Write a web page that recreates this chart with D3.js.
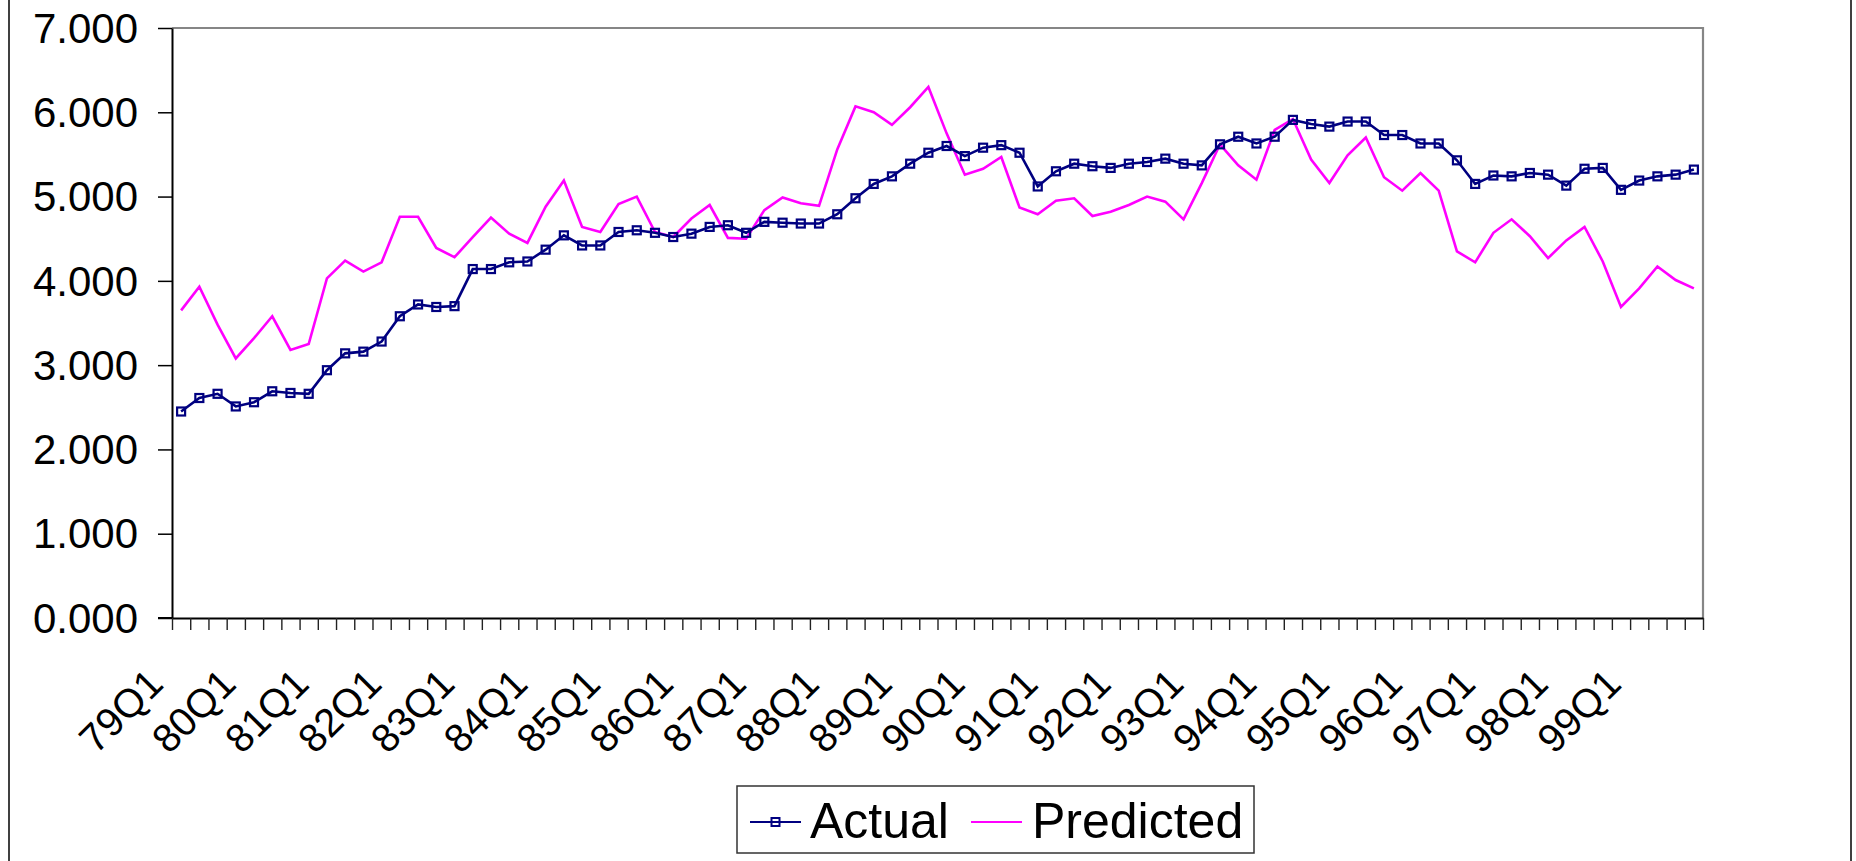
<!DOCTYPE html>
<html>
<head>
<meta charset="utf-8">
<script src="https://cdn.jsdelivr.net/npm/d3@7"></script>
<style>
  html, body { margin: 0; padding: 0; background: #fff; }
  svg { display: block; font-family: "Liberation Sans", Arial, sans-serif; }
</style>
</head>
<body>
<svg id="chart" width="1856" height="861"></svg>
<script>
// Quarterly series, 1979Q1 – 1999Q4
const years = ["79","80","81","82","83","84","85","86","87","88","89","90",
               "91","92","93","94","95","96","97","98","99"];
const quarters = ["Q1","Q2","Q3","Q4"];
const categories = years.flatMap(y => quarters.map(q => y + q));

const actual = [
  2.45,2.61,2.66,2.51,2.56,2.69,2.67,2.66,2.94,3.14,
  3.16,3.28,3.58,3.72,3.69,3.70,4.14,4.14,4.22,4.23,
  4.37,4.54,4.42,4.42,4.58,4.60,4.57,4.52,4.56,4.64,
  4.66,4.57,4.70,4.69,4.68,4.68,4.79,4.98,5.15,5.24,
  5.39,5.52,5.60,5.48,5.58,5.61,5.52,5.12,5.30,5.39,
  5.36,5.34,5.39,5.41,5.45,5.39,5.37,5.62,5.71,5.63,
  5.71,5.91,5.86,5.83,5.89,5.89,5.73,5.73,5.63,5.63,
  5.43,5.15,5.25,5.24,5.28,5.26,5.13,5.33,5.34,5.08,
  5.19,5.24,5.26,5.32
];

const predicted = [
  3.65,3.93,3.48,3.08,3.32,3.58,3.18,3.25,4.03,4.24,
  4.11,4.22,4.76,4.76,4.39,4.28,4.52,4.75,4.56,4.45,
  4.88,5.19,4.64,4.58,4.91,5.00,4.58,4.52,4.74,4.90,
  4.51,4.50,4.84,4.99,4.92,4.89,5.56,6.07,6.00,5.85,
  6.06,6.30,5.75,5.26,5.33,5.47,4.87,4.79,4.95,4.98,
  4.77,4.82,4.90,5.00,4.94,4.73,5.16,5.62,5.37,5.20,
  5.79,5.92,5.44,5.16,5.49,5.70,5.23,5.07,5.28,5.07,
  4.35,4.22,4.57,4.73,4.53,4.27,4.48,4.64,4.23,3.69,
  3.91,4.17,4.01,3.91
];

const yTicks = [0, 1, 2, 3, 4, 5, 6, 7];
const xTickLabels = categories.filter(c => c.endsWith("Q1"));

const seriesNames = ["Actual", "Predicted"];
const colors = { Actual: "#000080", Predicted: "#ff00ff" };

// ---- layout ----
const svg = d3.select("#chart");
const plot = { left: 172, right: 1703, top: 28, bottom: 618 };

const x = d3.scaleBand().domain(categories).range([plot.left, plot.right]).padding(0);
const xEdge = d3.scaleLinear().domain([0, categories.length]).range([plot.left, plot.right]);
const y = d3.scaleLinear().domain([0, 7]).range([plot.bottom, plot.top]);
const cx = c => x(c) + x.bandwidth() / 2;

svg.append("rect").attr("width", 1856).attr("height", 861).attr("fill", "#fff");

// outer chart-area frame (left and right edges)
svg.append("line").attr("x1", 9).attr("x2", 9).attr("y1", 0).attr("y2", 861)
  .attr("stroke", "#000").attr("stroke-width", 1.5);
svg.append("line").attr("x1", 1851).attr("x2", 1851).attr("y1", 0).attr("y2", 861)
  .attr("stroke", "#000").attr("stroke-width", 1.5);

// plot-area border (top & right in gray)
svg.append("path")
  .attr("d", `M${plot.left},${plot.top}H${plot.right}V${plot.bottom}`)
  .attr("fill", "none").attr("stroke", "#868686").attr("stroke-width", 2.2);

// y axis
const yAxis = svg.append("g")
  .attr("transform", `translate(${plot.left},0)`)
  .call(d3.axisLeft(y).tickValues(yTicks).tickFormat(d3.format(".3f"))
        .tickSize(14).tickSizeOuter(0).tickPadding(20));
yAxis.select(".domain").attr("stroke", "#000").attr("stroke-width", 2);
yAxis.selectAll(".tick line").attr("stroke", "#000").attr("stroke-width", 1.5);
yAxis.selectAll(".tick text")
  .attr("font-size", 42).attr("fill", "#000")
  .attr("font-family", "'Liberation Sans', Arial, sans-serif")
  .attr("dy", "0.34em");

// x axis: ticks at category boundaries
const xAxis = svg.append("g")
  .attr("transform", `translate(0,${plot.bottom})`)
  .call(d3.axisBottom(xEdge).tickValues(d3.range(categories.length + 1))
        .tickFormat("").tickSize(12).tickSizeOuter(0));
xAxis.select(".domain").attr("stroke", "#000").attr("stroke-width", 2);
xAxis.selectAll(".tick line").attr("stroke", "#222").attr("stroke-width", 1.4);
svg.append("line").attr("x1", plot.left - 14).attr("x2", plot.left)
  .attr("y1", plot.bottom).attr("y2", plot.bottom)
  .attr("stroke", "#000").attr("stroke-width", 2);

// rotated category labels
svg.append("g").selectAll("text")
  .data(xTickLabels)
  .join("text")
  .attr("transform", d => `translate(${cx(d) - 16},686) rotate(-45)`)
  .attr("text-anchor", "end")
  .attr("font-size", 40)
  .attr("fill", "#000")
  .text(d => d);

// series lines
const line = d3.line().x(d => cx(d.c)).y(d => y(d.v));
const toPts = arr => arr.map((v, i) => ({ c: categories[i], v }));

svg.append("path")
  .datum(toPts(predicted))
  .attr("d", line)
  .attr("fill", "none").attr("stroke", colors.Predicted)
  .attr("stroke-width", 2.6).attr("stroke-linejoin", "miter");

svg.append("path")
  .datum(toPts(actual))
  .attr("d", line)
  .attr("fill", "none").attr("stroke", colors.Actual)
  .attr("stroke-width", 2.6).attr("stroke-linejoin", "miter");

// square markers on the actual series
const ms = 8;
svg.append("g").selectAll("rect")
  .data(toPts(actual))
  .join("rect")
  .attr("x", d => cx(d.c) - ms / 2)
  .attr("y", d => y(d.v) - ms / 2)
  .attr("width", ms).attr("height", ms)
  .attr("fill", "none")
  .attr("stroke", colors.Actual).attr("stroke-width", 2.2);

// legend
const lg = svg.append("g");
lg.append("rect").attr("x", 737).attr("y", 786).attr("width", 517).attr("height", 67)
  .attr("fill", "#fff").attr("stroke", "#333").attr("stroke-width", 1.5);

const legendItems = [
  { name: seriesNames[0], x0: 750, tx: 810, marker: true },
  { name: seriesNames[1], x0: 971, tx: 1032, marker: false }
];
legendItems.forEach(it => {
  lg.append("line").attr("x1", it.x0).attr("x2", it.x0 + 51)
    .attr("y1", 822).attr("y2", 822)
    .attr("stroke", colors[it.name]).attr("stroke-width", 2.2);
  if (it.marker) {
    lg.append("rect").attr("x", it.x0 + 25.5 - ms / 2).attr("y", 822 - ms / 2)
      .attr("width", ms).attr("height", ms)
      .attr("fill", "none").attr("stroke", colors[it.name]).attr("stroke-width", 2);
  }
  lg.append("text").attr("x", it.tx).attr("y", 838)
    .attr("font-size", 50).attr("fill", "#000").text(it.name);
});
</script>
</body>
</html>
